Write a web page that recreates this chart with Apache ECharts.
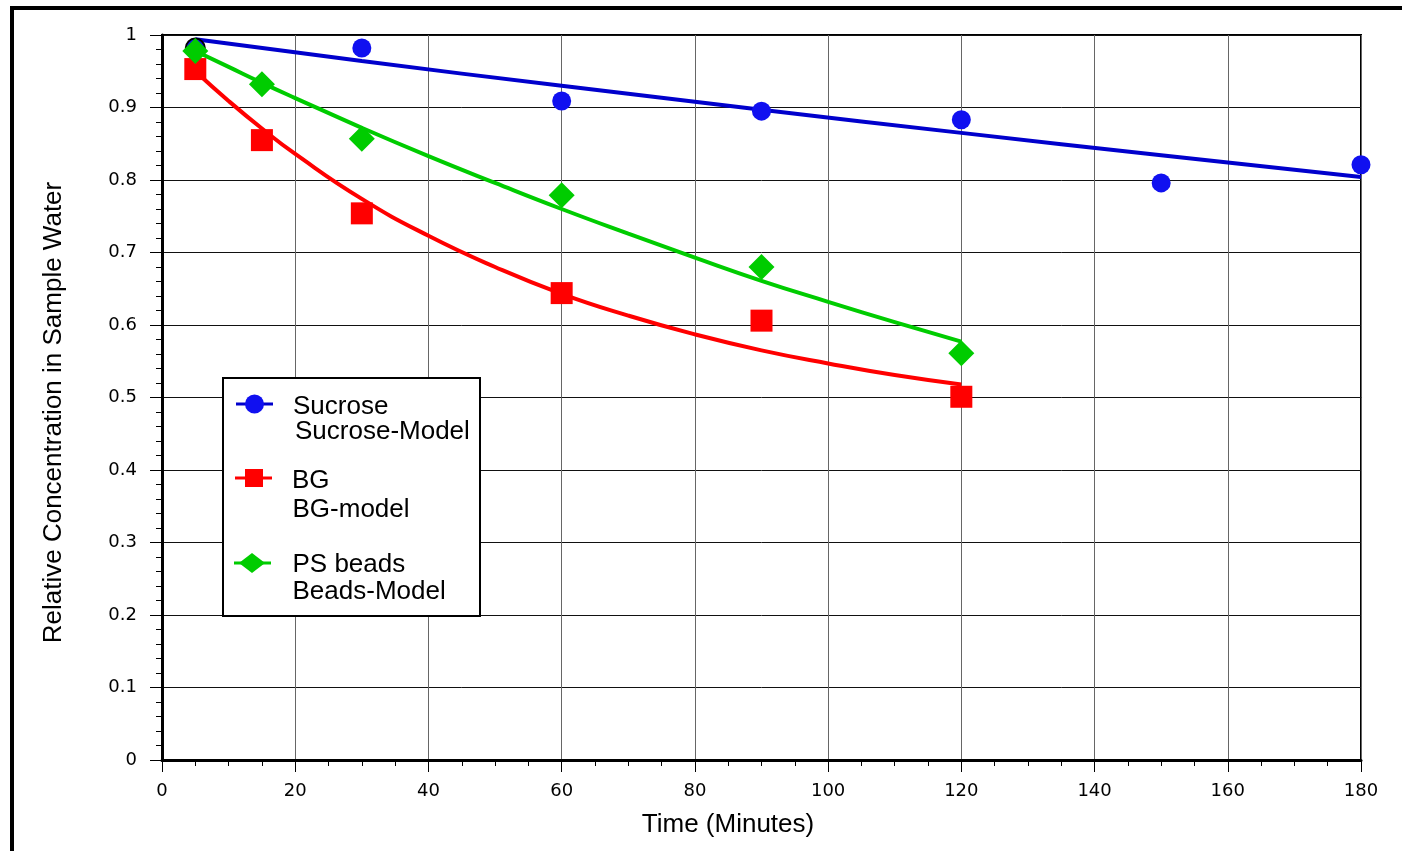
<!DOCTYPE html>
<html>
<head>
<meta charset="utf-8">
<script src="https://cdn.jsdelivr.net/npm/echarts@6/dist/echarts.min.js"></script>
<style>
html,body{margin:0;padding:0;background:#fff;}
#chart{width:1402px;height:851px;}
</style>
</head>
<body>
<div id="chart"></div>
<script>
// ---- data ----
var sucroseTime = [5, 30, 60, 90, 120, 150, 180];
var sucroseConc = [0.982, 0.982, 0.909, 0.895, 0.883, 0.796, 0.821];
var sucroseModelTime = [5, 30, 60, 90, 120, 150, 180];
var sucroseModelConc = [0.994, 0.964, 0.930, 0.897, 0.865, 0.834, 0.804];

var bgTime = [5, 15, 30, 60, 90, 120];
var bgConc = [0.953, 0.855, 0.754, 0.644, 0.606, 0.501];
var bgModelTime = [5, 10, 15, 20, 30, 40, 50, 60, 70, 80, 90, 100, 110, 120];
var bgModelConc = [0.950, 0.909, 0.871, 0.836, 0.774, 0.723, 0.680, 0.643, 0.613, 0.587, 0.565, 0.547, 0.531, 0.518];

var beadsTime = [5, 15, 30, 60, 90, 120];
var beadsConc = [0.978, 0.932, 0.857, 0.779, 0.680, 0.561];
var beadsModelTime = [5, 10, 15, 20, 30, 40, 50, 60, 70, 80, 90, 100, 110, 120];
var beadsModelConc = [0.978, 0.956, 0.934, 0.913, 0.872, 0.833, 0.796, 0.760, 0.726, 0.693, 0.661, 0.632, 0.604, 0.577];

var xTickLabels = ['0', '20', '40', '60', '80', '100', '120', '140', '160', '180'];
var yTickLabels = ['0', '0.1', '0.2', '0.3', '0.4', '0.5', '0.6', '0.7', '0.8', '0.9', '1'];

var legendNames = ['Sucrose', 'BG', 'PS beads'];
var legendModelNames = ['Sucrose-Model', 'BG-model', 'Beads-Model'];

// ---- helpers ----
function pairs(xs, ys) { return xs.map(function (x, i) { return [x, ys[i]]; }); }

var BLUE = '#1010f0', BLUE_LINE = '#0000cc', RED = '#ff0000', GREEN = '#00cc00';
var LABEL_FONT = 'DejaVu Sans, sans-serif';
var TEXT_FONT = 'Liberation Sans, Arial, sans-serif';

var sucroseData = pairs(sucroseTime, sucroseConc).map(function (p, i) {
  return i === 0 ? { value: p, itemStyle: { borderColor: '#000', borderWidth: 2 } } : p;
});

var chart = echarts.init(document.getElementById('chart'), null, { renderer: 'canvas' });

var option = {
  backgroundColor: '#fff',
  animation: false,
  grid: { left: 162, right: 41, top: 35, bottom: 91, show: true, borderColor: '#000', borderWidth: 2, containLabel: false },
  xAxis: {
    type: 'value', min: 0, max: 180, interval: 20,
    name: 'Time (Minutes)', nameLocation: 'middle', nameGap: 52,
    nameTextStyle: { fontFamily: TEXT_FONT, fontSize: 26, color: '#000', padding: [0, 67, 0, 0] },
    axisLine: { show: true, onZero: false, lineStyle: { color: '#000', width: 3 } },
    axisTick: { show: true, length: 12, lineStyle: { color: '#000', width: 1 } },
    minorTick: { show: true, splitNumber: 4, length: 6, lineStyle: { color: '#000', width: 1 } },
    axisLabel: {
      fontFamily: LABEL_FONT, fontSize: 18, color: '#000', margin: 22,
      formatter: function (v) { var i = Math.round(v / 20); return xTickLabels[i] !== undefined ? xTickLabels[i] : ''; }
    },
    splitLine: { show: true, lineStyle: { color: '#666', width: 1 } }
  },
  yAxis: {
    type: 'value', min: 0, max: 1, interval: 0.1,
    name: 'Relative Concentration in Sample Water', nameLocation: 'middle', nameGap: 95,
    nameTextStyle: { fontFamily: TEXT_FONT, fontSize: 26, color: '#000', padding: [0, 30, 0, 0] },
    axisLine: { show: true, onZero: false, lineStyle: { color: '#000', width: 3 } },
    axisTick: { show: true, length: 12, lineStyle: { color: '#000', width: 1 } },
    minorTick: { show: true, splitNumber: 5, length: 6, lineStyle: { color: '#000', width: 1 } },
    axisLabel: {
      fontFamily: LABEL_FONT, fontSize: 18, color: '#000', margin: 25,
      formatter: function (v) { var i = Math.round(v * 10); return yTickLabels[i] !== undefined ? yTickLabels[i] : ''; }
    },
    splitLine: { show: true, lineStyle: { color: '#111', width: 1 } }
  },
  series: [
    { name: 'Sucrose-Model', type: 'line', data: pairs(sucroseModelTime, sucroseModelConc), smooth: true, showSymbol: false, symbol: 'none',
      lineStyle: { color: BLUE_LINE, width: 4 }, z: 3 },
    { name: 'BG-model', type: 'line', data: pairs(bgModelTime, bgModelConc), smooth: true, showSymbol: false, symbol: 'none',
      lineStyle: { color: RED, width: 4 }, z: 3 },
    { name: 'Beads-Model', type: 'line', data: pairs(beadsModelTime, beadsModelConc), smooth: true, showSymbol: false, symbol: 'none',
      lineStyle: { color: GREEN, width: 4 }, z: 3 },
    { name: 'BG', type: 'scatter', data: pairs(bgTime, bgConc), symbol: 'rect', symbolSize: 22,
      itemStyle: { color: RED, opacity: 1 }, z: 5 },
    { name: 'Sucrose', type: 'scatter', data: sucroseData, symbol: 'circle', symbolSize: 19,
      itemStyle: { color: BLUE, opacity: 1 }, z: 6 },
    { name: 'PS beads', type: 'scatter', data: pairs(beadsTime, beadsConc), symbol: 'diamond', symbolSize: 26,
      itemStyle: { color: GREEN, opacity: 1 }, z: 7 }
  ],
  graphic: [
    // page frame (left and top)
    { type: 'rect', shape: { x: 10, y: 6, width: 4, height: 845 }, style: { fill: '#000' }, z: 100 },
    { type: 'rect', shape: { x: 10, y: 6, width: 1392, height: 4 }, style: { fill: '#000' }, z: 100 },
    // legend box
    { type: 'rect', shape: { x: 223, y: 378, width: 257, height: 238 }, style: { fill: '#fff', stroke: '#000', lineWidth: 2 }, z: 100 },
    // sucrose entry
    { type: 'line', shape: { x1: 236, y1: 404, x2: 273, y2: 404 }, style: { stroke: BLUE_LINE, lineWidth: 3 }, z: 101 },
    { type: 'circle', shape: { cx: 254.5, cy: 404, r: 9.5 }, style: { fill: BLUE }, z: 102 },
    { type: 'text', x: 293, y: 407, style: { text: legendNames[0], font: '26px ' + TEXT_FONT, fill: '#000', verticalAlign: 'middle' }, z: 101 },
    { type: 'text', x: 295, y: 432, style: { text: legendModelNames[0], font: '26px ' + TEXT_FONT, fill: '#000', verticalAlign: 'middle' }, z: 101 },
    // BG entry
    { type: 'line', shape: { x1: 235, y1: 478, x2: 272, y2: 478 }, style: { stroke: RED, lineWidth: 3 }, z: 101 },
    { type: 'rect', shape: { x: 245, y: 469, width: 18, height: 18 }, style: { fill: RED }, z: 102 },
    { type: 'text', x: 292, y: 481, style: { text: legendNames[1], font: '26px ' + TEXT_FONT, fill: '#000', verticalAlign: 'middle' }, z: 101 },
    { type: 'text', x: 292.5, y: 509.5, style: { text: legendModelNames[1], font: '26px ' + TEXT_FONT, fill: '#000', verticalAlign: 'middle' }, z: 101 },
    // Beads entry
    { type: 'line', shape: { x1: 234, y1: 563, x2: 271, y2: 563 }, style: { stroke: GREEN, lineWidth: 3 }, z: 101 },
    { type: 'polygon', shape: { points: [[252, 553], [265, 563], [252, 573], [239, 563]] }, style: { fill: GREEN }, z: 102 },
    { type: 'text', x: 292.5, y: 564.5, style: { text: legendNames[2], font: '26px ' + TEXT_FONT, fill: '#000', verticalAlign: 'middle' }, z: 101 },
    { type: 'text', x: 292.5, y: 591.5, style: { text: legendModelNames[2], font: '26px ' + TEXT_FONT, fill: '#000', verticalAlign: 'middle' }, z: 101 }
  ]
};
chart.setOption(option);
</script>
</body>
</html>
